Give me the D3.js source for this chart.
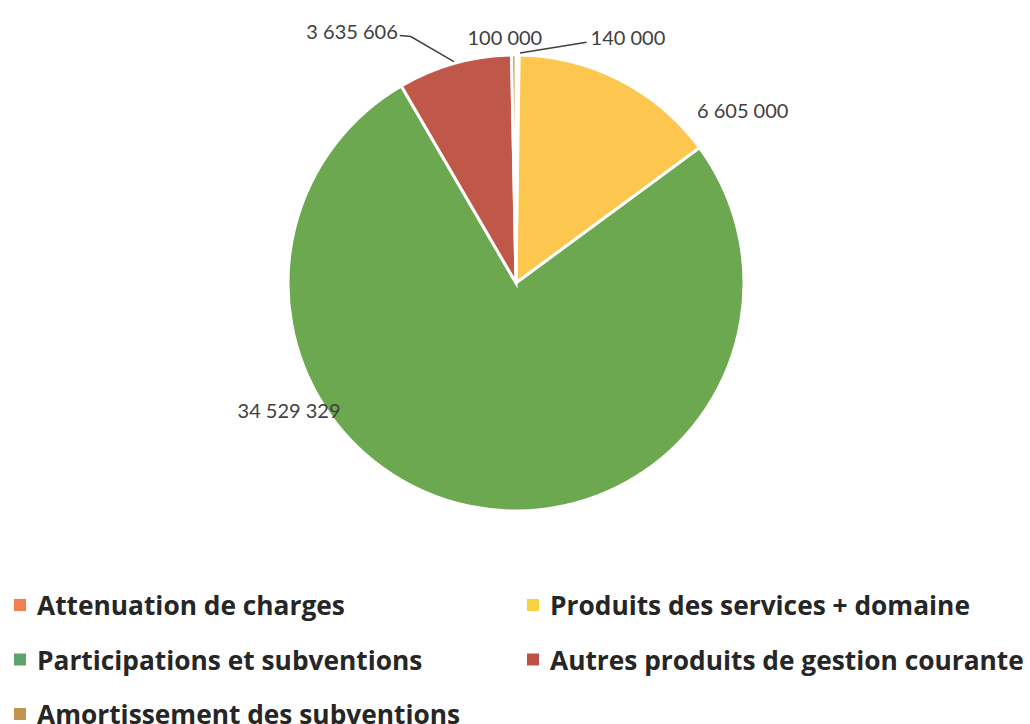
<!DOCTYPE html>
<html>
	<head>
		<script src="https://d3js.org/d3.v7.min.js"></script>
	</head>
	<body style="margin:0;background:#fff">
		<svg id="chart" width="1030" height="724"></svg>
	</body>
	<script>
	// chart data
	var categories = ["Attenuation de charges", "Produits des services + domaine", "Participations et subventions", "Autres produits de gestion courante", "Amortissement des subventions"];
	var values = [100000, 6605000, 34529329, 3635606, 140000];
	var labels = ["100 000", "6 605 000", "34 529 329", "3 635 606", "140 000"];
	var sliceColors = ["#F2894F", "#FDC64E", "#6BA84F", "#C0584A", "#C2984F"];
	var legendColors = ["#F08050", "#F9D13E", "#5BA36A", "#BF5048", "#C09550"];

	var svg = d3.select("svg"),
		cx = 516, cy = 283, radius = 228;

	var pie = d3.pie().sort(null).value(function(d){ return d });
	var arc = d3.arc().innerRadius(0).outerRadius(radius);
	var arcs = pie(values);

	var g = svg.append("g").attr("transform", "translate(" + cx + "," + cy + ")");

	g.selectAll("path")
		.data(arcs)
		.enter().append("path")
			.attr("d", arc)
			.attr("fill", function(d, i){ return sliceColors[i] })
			.style("stroke", "#fff")
			.style("stroke-width", 3)

	// label placement (polar: degrees clockwise from top, distance from centre)
	var labelAt = [
		{a: -2.6, r: 246},
		{a: 52.7, r: 285},
		{a: 240.8, r: 260},
		{a: 327, r: 301},
		{a: 24.5, r: 270}
	];
	function polar(a, r) {
		var t = a * Math.PI / 180;
		return [Math.sin(t) * r, -Math.cos(t) * r];
	}

	var texts = g.selectAll("text.lbl")
		.data(arcs)
		.enter().append("text")
			.attr("class", "lbl")
			.attr("x", function(d, i){ return polar(labelAt[i].a, labelAt[i].r)[0] })
			.attr("y", function(d, i){ return polar(labelAt[i].a, labelAt[i].r)[1] })
			.attr("text-anchor", "middle")
			.attr("dominant-baseline", "central")
			.style("font-family", "Lato, 'Liberation Sans', sans-serif")
			.style("font-size", "20px")
			.style("fill", "#404040")
			.text(function(d, i){ return labels[i] })

	// leader lines for the small slices
	var leader = d3.line();
	texts.each(function(d, i){
		var b = this.getBBox();
		var mid = b.y + b.height / 2;
		var pts = null;
		if (i === 3) {
			var p = polar((d.startAngle + d.endAngle) / 2 * 180 / Math.PI, radius + 2);
			pts = [p, [b.x + b.width + 13, mid + 6], [b.x + b.width + 2, mid + 5]];
		} else if (i === 4) {
			var p2 = polar(1, radius + 2);
			pts = [p2, [b.x - 4, mid + 5]];
		}
		if (pts) {
			g.append("path")
				.attr("d", leader(pts))
				.style("fill", "none")
				.style("stroke", "#404040")
				.style("stroke-width", 1.5)
		}
	});

	// legend
	var legend = svg.append("g");
	var item = legend.selectAll("g")
		.data(categories)
		.enter().append("g")
			.attr("transform", function(d, i){
				var col = i % 2, row = Math.floor(i / 2);
				return "translate(" + (col ? 527 : 14) + "," + (605 + row * 54.5) + ")";
			})
	item.append("rect")
		.attr("x", 0).attr("y", -6)
		.attr("width", 12).attr("height", 12)
		.attr("fill", function(d, i){ return legendColors[i] })
	item.append("text")
		.attr("x", 23)
		.attr("dominant-baseline", "central")
		.style("font-family", "'Open Sans', 'Noto Sans', sans-serif")
		.style("font-weight", "bold")
		.style("font-size", "26.3px")
		.style("fill", "#262626")
		.text(function(d){ return d })
	</script>
</html>
